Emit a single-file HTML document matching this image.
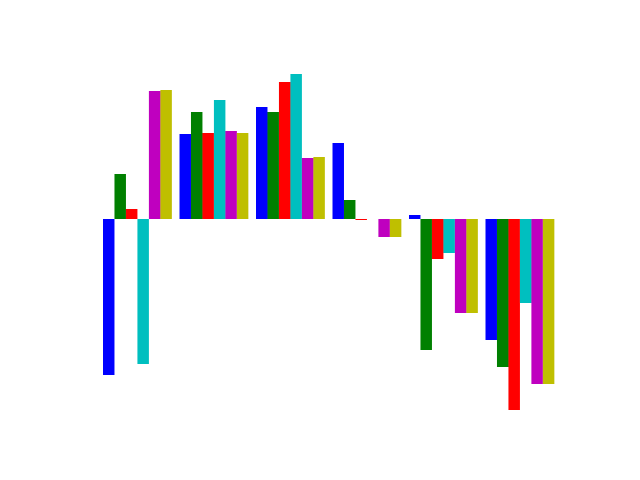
<!DOCTYPE html>
<html><head><meta charset="utf-8"><style>html,body{margin:0;padding:0;background:#fff;}svg{display:block;}</style></head>
<body>
<svg id="chart" width="640" height="480" xmlns="http://www.w3.org/2000/svg"></svg>
<script>
const categories = ["g1","g2","g3","g4","g5","g6"];
const seriesNames = ["blue","green","red","cyan","magenta","yellow"];
const seriesColors = ["#0000ff","#008000","#ff0000","#00bfbf","#bf00bf","#bfbf00"];
const seriesBlue = [-156, 85, 112, 76, 4, -121];
const seriesGreen = [45, 107, 107, 19, -131, -148];
const seriesRed = [10, 86, 137, -1, -40, -191];
const seriesCyan = [-145, 119, 145, 0, -34, -84];
const seriesMagenta = [128, 88, 61, -18, -94, -165];
const seriesYellow = [129, 86, 62, -18, -94, -165];
const allSeries = [seriesBlue, seriesGreen, seriesRed, seriesCyan, seriesMagenta, seriesYellow];

const svg = document.getElementById('chart');
const NS = 'http://www.w3.org/2000/svg';
const x0 = 103, groupStride = 76.5, barW = groupStride * 0.15;
const zeroY = 219, yScale = 1;
function xPos(gi, si){ return x0 + gi*groupStride + si*barW; }
function yPos(v){ return zeroY - v*yScale; }

allSeries.forEach((vals, si) => {
  vals.forEach((v, gi) => {
    const r = document.createElementNS(NS, 'rect');
    const y1 = yPos(v), y2 = yPos(0);
    r.setAttribute('x', xPos(gi, si));
    r.setAttribute('y', Math.min(y1, y2));
    r.setAttribute('width', barW);
    r.setAttribute('height', Math.abs(y2 - y1));
    r.setAttribute('fill', seriesColors[si]);
    
    
    svg.appendChild(r);
  });
});
</script>
</body></html>
